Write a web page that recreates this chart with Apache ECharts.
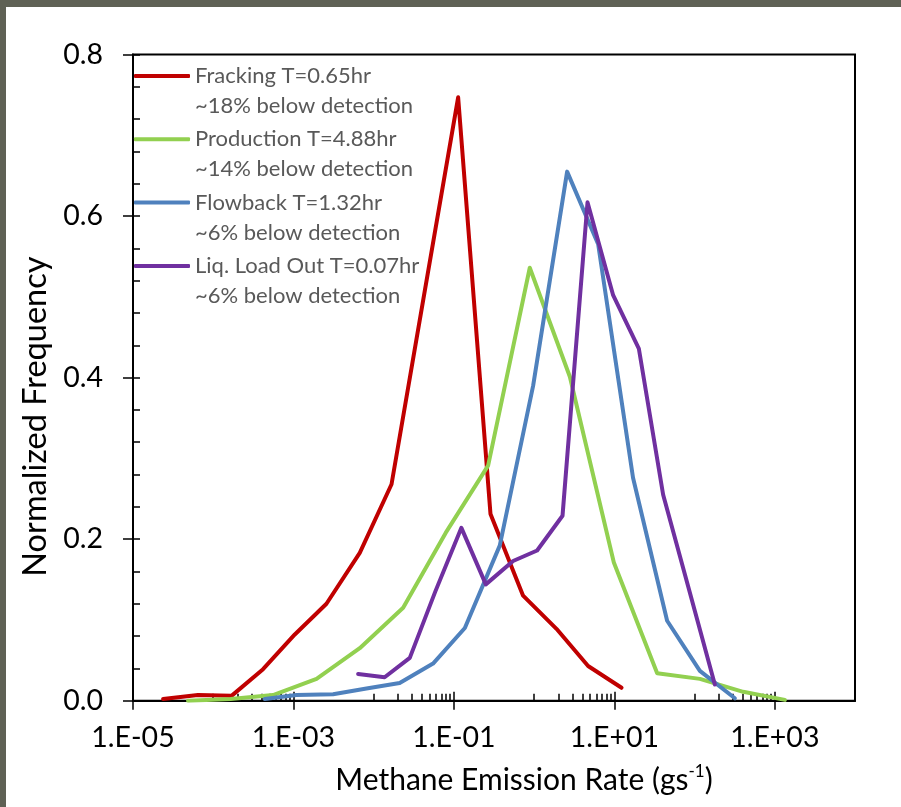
<!DOCTYPE html>
<html>
<head>
<meta charset="utf-8">
<script src="https://cdn.jsdelivr.net/npm/echarts@6/dist/echarts.min.js"></script>
<style>
  html, body { margin: 0; padding: 0; width: 901px; height: 807px; overflow: hidden; background: #5f6155; }
  #chart { position: absolute; left: 6px; top: 7px; width: 895px; height: 800px; background: #ffffff; }
</style>
</head>
<body>
<div id="chart"></div>
<script>
// Series labels and the share of samples below the detection limit
const seriesNames = ['Fracking T=0.65hr', 'Production T=4.88hr', 'Flowback T=1.32hr', 'Liq. Load Out T=0.07hr'];
const detectionNotes = ['~18% below detection', '~14% below detection', '~6% below detection', '~6% below detection'];
const seriesColors = ['#C00000', '#92D050', '#4F81BD', '#7030A0'];

// Methane emission rate (g/s) and normalized frequency per series
const frackingRate = [2.37e-5, 6.45e-5, 1.69e-4, 4.18e-4, 1.04e-3, 2.58e-3, 6.71e-3, 1.67e-2, 4.21e-2, 0.113, 0.286, 0.729, 1.90, 4.71, 12.3];
const frackingFreq = [0.002, 0.007, 0.006, 0.039, 0.082, 0.120, 0.183, 0.268, 0.500, 0.747, 0.231, 0.130, 0.089, 0.043, 0.016];

const productionRate = [4.85e-5, 1.65e-4, 5.57e-4, 1.94e-3, 6.71e-3, 2.33e-2, 7.93e-2, 0.267, 0.883, 2.79, 9.86, 34.2, 116.5, 404, 1337];
const productionFreq = [0.000, 0.002, 0.007, 0.027, 0.065, 0.115, 0.208, 0.291, 0.536, 0.401, 0.171, 0.034, 0.027, 0.011, 0.001];

const flowbackRate = [4.38e-4, 1.09e-3, 3.12e-3, 8.13e-3, 2.11e-2, 5.50e-2, 0.137, 0.373, 0.973, 2.58, 6.29, 17.1, 45.5, 116.5, 318];
const flowbackFreq = [0.002, 0.007, 0.008, 0.015, 0.022, 0.046, 0.090, 0.192, 0.390, 0.655, 0.565, 0.276, 0.099, 0.037, 0.003];

const loadOutRate = [6.4e-3, 1.37e-2, 2.82e-2, 5.86e-2, 0.124, 0.250, 0.547, 1.09, 2.26, 4.63, 9.66, 20.2, 40.6, 87.3, 179];
const loadOutFreq = [0.033, 0.029, 0.053, 0.135, 0.214, 0.144, 0.173, 0.186, 0.229, 0.617, 0.502, 0.436, 0.255, 0.134, 0.020];

// Axis ticks
const xMajorTicks = [1e-5, 1e-3, 1e-1, 1e1, 1e3];
const xMinorDecades = [-4, -2, 0, 2];

const xMinorTicks = [];
xMinorDecades.forEach(function (e) {
  for (let k = 1; k <= 9; k++) xMinorTicks.push(k * Math.pow(10, e));
});

const rates = [frackingRate, productionRate, flowbackRate, loadOutRate];
const freqs = [frackingFreq, productionFreq, flowbackFreq, loadOutFreq];

const FONT = 'Lato';

function expLabel(v) {
  const e = Math.round(Math.log10(v));
  const s = String(Math.abs(e)).padStart(2, '0');
  return '1.E' + (e < 0 ? '-' : '+') + s;
}

const baseX = {
  type: 'log', logBase: 10, min: 1e-5, max: 1e4,
  gridIndex: 0, position: 'bottom',
  splitLine: { show: false }
};

const legendText = { fontFamily: FONT, fontSize: 22, color: '#595959', lineHeight: 26 };

const option = {
  animation: false,
  backgroundColor: '#ffffff',
  grid: {
    left: 127, right: 46, top: 47.5, bottom: 106.3,
    show: true, borderColor: '#000000', borderWidth: 2, backgroundColor: 'transparent'
  },
  legend: [
    {
      data: seriesNames,
      orient: 'vertical', left: 128, top: 56, padding: 0,
      itemWidth: 56, itemHeight: 4, itemGap: 37.3, icon: 'roundRect',
      textStyle: legendText
    },
    {
      data: seriesNames,
      orient: 'vertical', left: 128, top: 86, padding: 0,
      itemWidth: 56, itemHeight: 4, itemGap: 37.3, icon: 'rect',
      itemStyle: { color: 'rgba(0,0,0,0)', borderWidth: 0 },
      formatter: function (name) { return detectionNotes[seriesNames.indexOf(name)]; },
      textStyle: legendText
    }
  ],
  xAxis: [
    Object.assign({}, baseX, {
      name: '{t|Methane Emission Rate (gs}{s|-1}{t|)}',
      nameLocation: 'middle', nameGap: 62,
      nameTextStyle: {
        padding: [0, 0, 0, 60],
        rich: {
          t: { fontFamily: FONT, fontSize: 30, color: '#000000', lineHeight: 36 },
          s: { fontFamily: FONT, fontSize: 17, color: '#000000', lineHeight: 36, verticalAlign: 'top', padding: [0, 0, 13, 0] }
        }
      },
      axisLine: { show: true, onZero: false, lineStyle: { color: '#000000', width: 2 } },
      axisTick: { show: true, inside: false, length: 9, customValues: xMajorTicks, lineStyle: { color: '#000000', width: 1.5 } },
      axisLabel: {
        show: true, customValues: xMajorTicks, margin: 23, formatter: expLabel,
        fontFamily: FONT, fontSize: 28.5, color: '#000000'
      }
    }),
    Object.assign({}, baseX, {
      axisLine: { show: false },
      axisTick: { show: true, inside: true, length: 9, customValues: xMajorTicks, lineStyle: { color: '#000000', width: 1.5 } },
      axisLabel: { show: false }
    }),
    Object.assign({}, baseX, {
      axisLine: { show: false },
      axisTick: { show: true, inside: true, length: 7, customValues: xMinorTicks, lineStyle: { color: '#000000', width: 1.5 } },
      axisLabel: { show: false }
    })
  ],
  yAxis: [
    {
      type: 'value', min: 0, max: 0.8, interval: 0.2, position: 'left',
      name: 'Normalized Frequency', nameLocation: 'middle', nameGap: 66,
      nameTextStyle: { fontFamily: FONT, fontSize: 32.5, color: '#000000', padding: [0, 78, 0, 0] },
      splitLine: { show: false },
      axisLine: { show: true, onZero: false, lineStyle: { color: '#000000', width: 2 } },
      axisTick: { show: true, inside: false, length: 10, lineStyle: { color: '#000000', width: 1.5 } },
      axisLabel: {
        margin: 30, fontFamily: FONT, fontSize: 28.5, color: '#000000',
        formatter: function (v) { return v.toFixed(1); }
      }
    },
    {
      type: 'value', min: 0, max: 0.8, interval: 0.04, position: 'left',
      splitLine: { show: false },
      axisLine: { show: false },
      axisTick: { show: true, inside: true, length: 7, lineStyle: { color: '#000000', width: 1.5 } },
      axisLabel: { show: false }
    }
  ],
  series: seriesNames.map(function (name, i) {
    return {
      name: name, type: 'line', xAxisIndex: 0, yAxisIndex: 0,
      showSymbol: false, symbol: 'none', smooth: false,
      color: seriesColors[i],
      lineStyle: { color: seriesColors[i], width: 4, cap: 'round', join: 'round' },
      data: rates[i].map(function (r, j) { return [r, freqs[i][j]]; })
    };
  })
};

const chart = echarts.init(document.getElementById('chart'), null, { renderer: 'canvas' });
chart.setOption(option);
</script>
</body>
</html>
